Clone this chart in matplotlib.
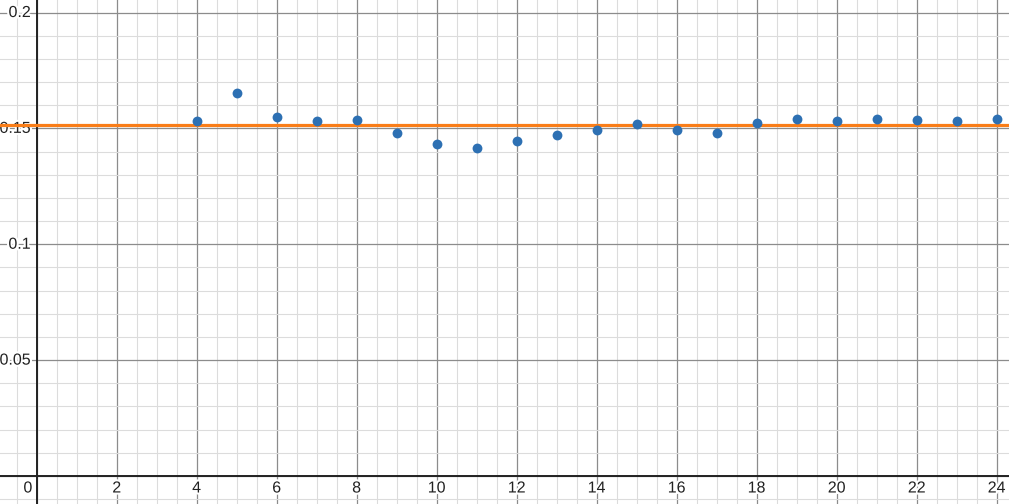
import numpy as np
import matplotlib.pyplot as plt
import matplotlib.patheffects as pe
from matplotlib.ticker import MultipleLocator

# data
x_vals = [4, 5, 6, 7, 8, 9, 10, 11, 12, 13, 14, 15, 16, 17, 18, 19, 20, 21, 22, 23, 24]
y_vals = [0.1532, 0.1654, 0.1550, 0.1532, 0.1538, 0.1479, 0.1434, 0.1414, 0.1444, 0.1471,
          0.1494, 0.1520, 0.1494, 0.1479, 0.1523, 0.1542, 0.1531, 0.1539, 0.1536, 0.1533, 0.1540]
mean_level = 0.1513
x_ticks = [2, 4, 6, 8, 10, 12, 14, 16, 18, 20, 22, 24]
y_ticks = [0.05, 0.1, 0.15, 0.2]
y_tick_labels = ["0.05", "0.1", "0.15", "0.2"]

plt.rcParams['font.family'] = ['Liberation Sans', 'DejaVu Sans']

fig = plt.figure(figsize=(10.09, 5.04), dpi=100)
ax = fig.add_axes([0, 0, 1, 1])
ax.set_xlim(-0.917, 24.31)
ax.set_ylim(-0.0121, 0.2054)

# grid like a graphing calculator
ax.xaxis.set_major_locator(MultipleLocator(2))
ax.xaxis.set_minor_locator(MultipleLocator(0.5))
ax.yaxis.set_major_locator(MultipleLocator(0.05))
ax.yaxis.set_minor_locator(MultipleLocator(0.01))
ax.grid(which='major', color='#8c8c8c', linewidth=0.9)
ax.grid(which='minor', color='#dcdcdc', linewidth=0.8)
ax.tick_params(which='both', length=0, labelbottom=False, labelleft=False)
for s in ax.spines.values():
    s.set_visible(False)
ax.set_axisbelow(True)

ax.axhline(0, color='#222222', linewidth=1.4, zorder=2)
ax.axvline(0, color='#222222', linewidth=1.4, zorder=2)

halo = [pe.withStroke(linewidth=3, foreground='white')]
for xt in x_ticks:
    ax.text(xt, -0.0052, str(xt), ha='center', va='center', fontsize=11.5,
            color='#222222', path_effects=halo, zorder=2.5)
ax.text(-0.22, -0.0052, "0", ha='center', va='center', fontsize=11.5,
        color='#222222', path_effects=halo, zorder=2.5)
for yt, lab in zip(y_ticks, y_tick_labels):
    ax.text(-0.15, yt, lab, ha='right', va='center', fontsize=11.5,
            color='#222222', path_effects=halo, zorder=2.5)

ax.axhline(mean_level, color='#fa7e19', linewidth=2.3, zorder=3)
ax.scatter(x_vals, y_vals, s=50, color='#2d70b3', zorder=4, linewidths=0)

fig.savefig('out.png', dpi=100)
